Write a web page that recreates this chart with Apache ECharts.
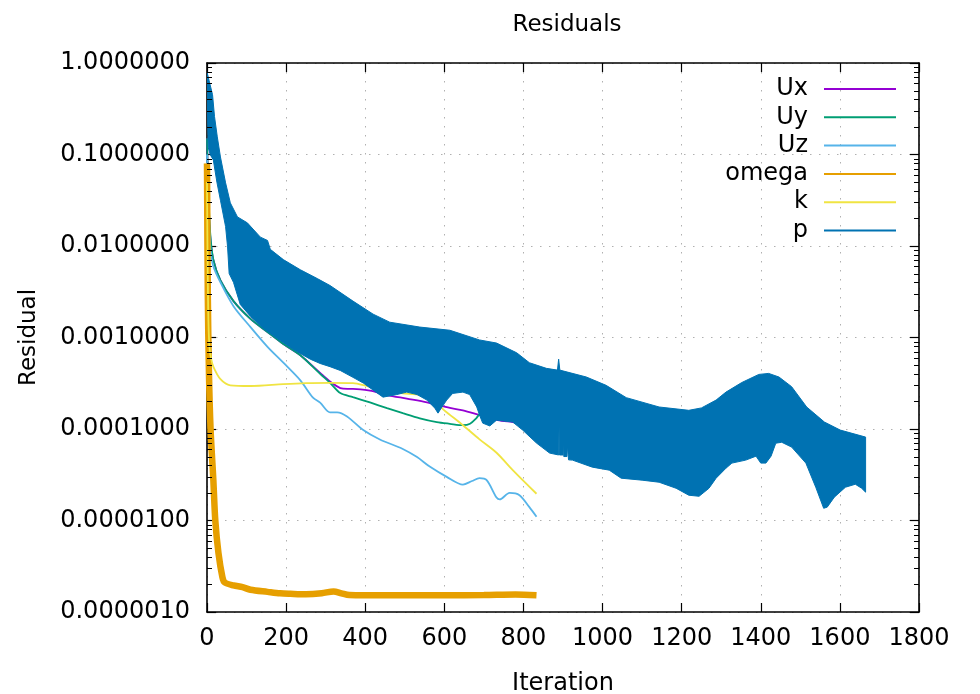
<!DOCTYPE html>
<html>
<head>
<meta charset="utf-8">
<script src="https://cdn.jsdelivr.net/npm/echarts@6/dist/echarts.min.js"></script>
<style>
html, body { margin: 0; padding: 0; background: #fff; }
#chart { width: 980px; height: 694px; }
</style>
</head>
<body>
<div id="chart"></div>
<script>
// Solver residual history (log scale), one array pair per field.
const xTicks = [0, 200, 400, 600, 800, 1000, 1200, 1400, 1600, 1800];
const yTicks = [1e-6, 1e-5, 1e-4, 1e-3, 1e-2, 1e-1, 1];

const uxIter = [0, 3, 8, 16, 34, 67, 110, 153, 193, 236, 286, 311, 337, 355, 369, 412, 455, 505, 556, 614, 647, 689, 735, 773, 800, 833];
const uxVal  = [0.15, 0.04, 0.013, 0.0071, 0.0042, 0.0025, 0.0016, 0.00115, 0.00085, 0.00064, 0.00041, 0.00033, 0.00028, 0.000275, 0.000275, 0.000262, 0.000235, 0.000215, 0.000196, 0.00017, 0.00016, 0.000142, 0.000125, 0.000119, 0.000114, 0.00011];

const uyIter = [0, 3, 8, 16, 34, 67, 110, 153, 193, 236, 286, 311, 337, 369, 412, 455, 495, 538, 581, 614, 647, 665, 680, 689, 720, 770, 833];
const uyVal  = [0.15, 0.045, 0.014, 0.0071, 0.0042, 0.0025, 0.0016, 0.00115, 0.00085, 0.00064, 0.0004, 0.00032, 0.000247, 0.000223, 0.000195, 0.000169, 0.000149, 0.000131, 0.000119, 0.000114, 0.00011, 0.000114, 0.00013, 0.000145, 0.00018, 0.0002, 0.00021];

const uzIter = [0, 3, 9, 16, 34, 67, 110, 153, 193, 236, 268, 286, 311, 329, 354, 395, 437, 495, 531, 563, 606, 647, 670, 689, 707, 732, 740, 765, 790, 815, 833];
const uzVal  = [0.1, 0.03, 0.0091, 0.006, 0.004, 0.0022, 0.0013, 0.00079, 0.00053, 0.00034, 0.00022, 0.000194, 0.000152, 0.000152, 0.000137, 0.0000973, 0.0000768, 0.0000605, 0.0000493, 0.0000389, 0.00003, 0.0000247, 0.000027, 0.000029, 0.0000276, 0.0000178, 0.000017, 0.00002, 0.0000189, 0.000014, 0.000011];

const omegaIter = [0, 2, 5, 9, 16, 21, 29, 39, 45, 67, 90, 110, 153, 185, 211, 250, 290, 320, 340, 360, 400, 500, 600, 700, 780, 833];
const omegaVal  = [8e-2, 3e-3, 4e-4, 1e-4, 2.8e-5, 1e-5, 4.4e-6, 2.4e-6, 2.1e-6, 1.95e-6, 1.87e-6, 1.75e-6, 1.66e-6, 1.6e-6, 1.58e-6, 1.56e-6, 1.6e-6, 1.68e-6, 1.6e-6, 1.53e-6, 1.52e-6, 1.52e-6, 1.52e-6, 1.53e-6, 1.55e-6, 1.52e-6];

const kIter = [0, 1, 3, 6, 10, 16, 34, 59, 110, 193, 250, 311, 369, 405, 450, 495, 538, 581, 600, 647, 689, 732, 773, 833];
const kVal  = [0.05, 0.012, 0.002, 0.0008, 0.0006, 0.00048, 0.00035, 0.0003, 0.000295, 0.00031, 0.000318, 0.00032, 0.000318, 0.000295, 0.000265, 0.000245, 0.000235, 0.00019, 0.00016, 0.00011, 0.000077, 0.000055, 0.0000355, 0.0000196];

// Pressure residual oscillates every iteration: stored as its upper and lower envelopes.
const pUpIter = [0, 5, 14, 19, 26, 34, 47, 59, 77, 102, 135, 153, 160, 193, 236, 279, 311, 369, 420, 462, 538, 614, 689, 732, 783, 815, 858, 886, 889, 892, 959, 1009, 1060, 1143, 1218, 1250, 1287, 1312, 1352, 1395, 1420, 1446, 1478, 1516, 1561, 1601, 1665];
const pUpVal  = [0.8, 0.65, 0.45, 0.26, 0.156, 0.094, 0.049, 0.0296, 0.0208, 0.0179, 0.0125, 0.0115, 0.0092, 0.0071, 0.0055, 0.0044, 0.0037, 0.0025, 0.0018, 0.00147, 0.0013, 0.0012, 0.00094, 0.00087, 0.00068, 0.00053, 0.00046, 0.00044, 0.00058, 0.00044, 0.00037, 0.0003, 0.00022, 0.000174, 0.00016, 0.00017, 0.000207, 0.000253, 0.000322, 0.000395, 0.000405, 0.00037, 0.00029, 0.000174, 0.000119, 0.0000973, 0.0000816];

const pLoIter = [0, 3, 8, 16, 25, 34, 47, 52, 56, 67, 84, 110, 140, 178, 218, 261, 286, 311, 337, 369, 395, 430, 445, 480, 505, 531, 556, 576, 584, 594, 606, 621, 647, 664, 682, 689, 697, 715, 732, 773, 798, 833, 866, 889, 890, 891, 892, 900, 901, 902, 910, 911, 914, 924, 974, 1017, 1047, 1100, 1143, 1186, 1218, 1244, 1269, 1287, 1312, 1327, 1362, 1388, 1400, 1413, 1426, 1438, 1453, 1478, 1514, 1539, 1559, 1568, 1586, 1614, 1639, 1655, 1665];
const pLoVal  = [0.6, 0.12, 0.1, 0.087, 0.05, 0.0316, 0.0163, 0.0098, 0.005, 0.004, 0.0023, 0.0017, 0.00128, 0.00097, 0.00074, 0.00058, 0.00052, 0.00048, 0.000436, 0.000367, 0.000318, 0.000248, 0.000223, 0.000238, 0.000253, 0.000238, 0.000207, 0.000169, 0.000149, 0.000174, 0.000207, 0.000245, 0.000253, 0.000238, 0.000174, 0.000142, 0.000116, 0.000108, 0.000125, 0.000119, 0.0000973, 0.0000702, 0.0000546, 0.000052, 0.000107, 0.000052, 0.000052, 0.000052, 0.000082, 0.00005, 0.00005, 0.000067, 0.000046, 0.0000457, 0.0000383, 0.0000355, 0.000029, 0.0000276, 0.0000262, 0.0000225, 0.0000189, 0.0000184, 0.0000225, 0.000029, 0.0000373, 0.0000424, 0.0000457, 0.0000505, 0.0000424, 0.0000424, 0.0000505, 0.00007, 0.0000716, 0.0000634, 0.0000424, 0.0000231, 0.0000136, 0.000014, 0.000018, 0.0000231, 0.0000249, 0.0000225, 0.0000204];

const colors = { Ux: '#9400d3', Uy: '#009e73', Uz: '#56b4e9', omega: '#e69f00', k: '#f0e442', p: '#0072b2' };
const FONT = 'DejaVu Sans';
const FS = 24;

const zip = (xs, ys) => xs.map((x, i) => [x, ys[i]]);

// minor ticks at 2..9 within each decade
const minorTicks = [];
for (let e = -6; e < 0; e++) {
  for (let m = 2; m <= 9; m++) minorTicks.push([0, m * Math.pow(10, e)]);
}

function lineSeries(name, iters, vals, width) {
  return {
    name, type: 'line', data: zip(iters, vals),
    showSymbol: false, symbol: 'none', smooth: 0.3,
    color: colors[name],
    itemStyle: { color: colors[name] },
    lineStyle: { color: colors[name], width: width || 1.8 },
    z: 2, silent: true, animation: false
  };
}

const chart = echarts.init(document.getElementById('chart'), null, { renderer: 'canvas' });

const axisText = { color: '#000', fontFamily: FONT, fontSize: FS };
const frameLine = { show: true, onZero: false, lineStyle: { color: '#000', width: 1.6 } };
const majorTick = { show: true, inside: true, length: 9, lineStyle: { color: '#000', width: 1.2 } };
const gridDots = { show: true, lineStyle: { color: '#b0b0b0', width: 1, type: [1.5, 7.5] } };

chart.setOption({
  animation: false,
  backgroundColor: '#fff',
  title: {
    text: 'Residuals', left: 562, top: 9, textAlign: 'center',
    textStyle: { color: '#000', fontFamily: FONT, fontSize: 23, fontWeight: 'normal' }
  },
  grid: { left: 207, right: 61, top: 63, bottom: 82, containLabel: false, outerBoundsMode: 'none' },
  legend: {
    data: ['Ux', 'Uy', 'Uz', 'omega', 'k', 'p'],
    orient: 'vertical', align: 'right', right: 84, top: 77, padding: 0,
    icon: 'rect', itemWidth: 72, itemHeight: 2, itemGap: 4.3,
    formatter: name => '{n|' + name + '}{s|}',
    textStyle: {
      color: '#000', fontFamily: FONT, fontSize: FS,
      rich: { n: { color: '#000', fontFamily: FONT, fontSize: FS }, s: { width: 11 } }
    },
    selectedMode: false
  },
  xAxis: [{
    type: 'value', min: xTicks[0], max: xTicks[xTicks.length - 1], interval: xTicks[1] - xTicks[0], position: 'bottom',
    name: 'Iteration', nameLocation: 'middle', nameGap: 60,
    nameTextStyle: { color: '#000', fontFamily: FONT, fontSize: FS },
    axisLine: frameLine, axisTick: majorTick,
    axisLabel: Object.assign({ margin: 15, formatter: v => String(v), alignMinLabel: 'center', alignMaxLabel: 'center' }, axisText),
    splitLine: gridDots
  }, {
    type: 'value', min: xTicks[0], max: xTicks[xTicks.length - 1], interval: xTicks[1] - xTicks[0], position: 'top',
    axisLine: frameLine, axisTick: majorTick,
    axisLabel: { show: false }, splitLine: { show: false }
  }],
  yAxis: [{
    type: 'log', logBase: 10, min: yTicks[0], max: yTicks[yTicks.length - 1], splitNumber: 6, position: 'left',
    name: 'Residual', nameLocation: 'middle', nameGap: 166, nameRotate: 90,
    nameTextStyle: { color: '#000', fontFamily: FONT, fontSize: 23 },
    axisLine: frameLine, axisTick: majorTick,
    axisLabel: Object.assign({ margin: 17, formatter: v => Number(v).toFixed(7), verticalAlignMinLabel: 'middle', verticalAlignMaxLabel: 'middle' }, axisText),
    splitLine: gridDots
  }, {
    type: 'log', logBase: 10, min: yTicks[0], max: yTicks[yTicks.length - 1], splitNumber: 6, position: 'right',
    axisLine: frameLine, axisTick: majorTick,
    axisLabel: { show: false }, splitLine: { show: false }
  }],
  series: [
    lineSeries('Ux', uxIter, uxVal),
    lineSeries('Uy', uyIter, uyVal),
    lineSeries('Uz', uzIter, uzVal),
    lineSeries('omega', omegaIter, omegaVal, 6.5),
    lineSeries('k', kIter, kVal),
    {
      name: 'p', type: 'custom', coordinateSystem: 'cartesian2d',
      color: colors.p, itemStyle: { color: colors.p },
      data: [[pUpIter[0], pUpVal[0]]], z: 3, silent: true, clip: true,
      renderItem: function (params, api) {
        const pts = [];
        for (let i = 0; i < pUpIter.length; i++) pts.push(api.coord([pUpIter[i], pUpVal[i]]));
        for (let i = pLoIter.length - 1; i >= 0; i--) pts.push(api.coord([pLoIter[i], pLoVal[i]]));
        return {
          type: 'polygon', shape: { points: pts },
          style: { fill: colors.p, stroke: colors.p, lineWidth: 1 }
        };
      }
    },
    {
      name: 'minorTicks', type: 'custom', coordinateSystem: 'cartesian2d',
      data: minorTicks, z: 10, silent: true,
      renderItem: function (params, api) {
        const cs = params.coordSys;
        const y = Math.round(api.coord([0, api.value(1)])[1]) + 0.5;
        const st = { stroke: '#000', lineWidth: 1 };
        return {
          type: 'group', children: [
            { type: 'line', shape: { x1: cs.x, y1: y, x2: cs.x + 5, y2: y }, style: st },
            { type: 'line', shape: { x1: cs.x + cs.width - 5, y1: y, x2: cs.x + cs.width, y2: y }, style: st }
          ]
        };
      }
    }
  ]
});
</script>
</body>
</html>
